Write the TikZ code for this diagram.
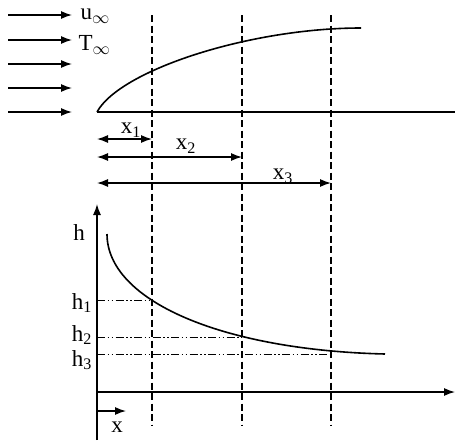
\documentclass[tikz,border=0pt]{standalone}
\usepackage{fontspec}
\setmainfont{Liberation Serif}
\usetikzlibrary{arrows.meta}
\usetikzlibrary{math}

\begin{document}
\begin{tikzpicture}[x=1pt,y=-1pt,line width=1.3pt,>={Latex[length=11pt,width=8pt]},
  font=\fontsize{23}{27}\selectfont]
\tikzmath{
\xo=97;
\xa=152;
\xb=242;
\xc=331;
\yp=112;
\ya=392;
}
\tikzset{
  station/.style={line width=1.2pt,dash pattern=on 7pt off 3.5pt},
  level/.style={line width=0.8pt,dash pattern=on 8pt off 2.5pt on 1.5pt off 2.5pt on 1.5pt off 2.5pt},
  lbl/.style={inner sep=0pt}
}
\useasboundingbox (0,0) rectangle (455,440);

% free stream
\foreach \yy in {15,40,64,88,112}{
  \draw[->] (8,\yy) -- (72,\yy);
}
\node[lbl,anchor=west] (uinf) at (80,16) {u\textsubscript{$\infty$}};
\node[lbl,anchor=west] (Tinf) at (78,45) {T\textsubscript{$\infty$}};

% plate and boundary layer
\coordinate (lead) at (\xo,\yp);
\coordinate (tail) at (455,\yp);
\coordinate (edge) at (361,28);
\draw (lead) -- (tail);
\draw[line width=1.6pt] (lead) .. controls (120,70) and (250,28) .. (edge);

% stations
\foreach \xs in {\xa,\xb,\xc}{
  \draw[station] (\xs,15) -- (\xs,425);
}

% distances
\draw[<->] (\xo,139) -- (\xa,139);
\draw[<->] (\xo,157) -- (\xb,157);
\draw[<->] (\xo,183) -- (\xc,183);
\node[lbl] (x1) at (131,130) {x\textsubscript{1}};
\node[lbl] (x2) at (186,146) {x\textsubscript{2}};
\node[lbl] (x3) at (283,176) {x\textsubscript{3}};

% local coefficient
\coordinate (O) at (\xo,\ya);
\draw[->] (\xo,440) -- (\xo,204);
\draw[->] (O) -- (455,\ya);
\node[lbl] (h) at (79,233) {h};
\coordinate (hstart) at (107,234);
\coordinate (hend) at (385,354);
\draw[line width=1.6pt] (hstart) .. controls (107,300) and (220,350) .. (hend);
\draw[level] (\xo,300) -- (\xa,300);
\draw[level] (\xo,337) -- (\xb,337);
\draw[level] (\xo,354) -- (\xc,354);
\node[lbl] (h1) at (82,303) {h\textsubscript{1}};
\node[lbl] (h2) at (82,335) {h\textsubscript{2}};
\node[lbl] (h3) at (82,360) {h\textsubscript{3}};
\draw[->] (\xo,411) -- (126,411);
\node[lbl] (xdir) at (117,427) {x};
\end{tikzpicture}
\end{document}
